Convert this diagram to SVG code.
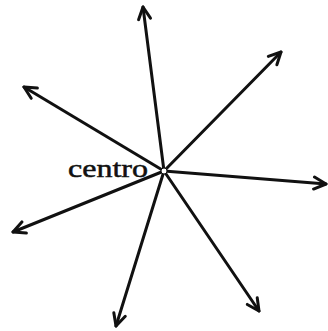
<svg xmlns="http://www.w3.org/2000/svg" width="328" height="331" viewBox="0 0 328 331">
<style>
.ray{stroke:#111;stroke-width:3;fill:none;stroke-linecap:round}
.lbl{font-family:"Liberation Serif","DejaVu Serif",serif;font-size:26px;fill:#111;stroke:#111;stroke-width:0.5}
</style>
<defs>
<marker id="arr" viewBox="0 0 16 16" refX="14" refY="8" markerWidth="16" markerHeight="16" markerUnits="userSpaceOnUse" orient="auto">
<path d="M2,2 L14,8 L2,14" fill="none" stroke="#111" stroke-width="3" stroke-linecap="round" stroke-linejoin="round"/>
</marker>
</defs>
<rect width="328" height="331" fill="#fff"/>
<g id="connectors">
<line class="ray" x1="164" y1="171" x2="143" y2="7" marker-end="url(#arr)"/>
<line class="ray" x1="164" y1="171" x2="281" y2="52" marker-end="url(#arr)"/>
<line class="ray" x1="164" y1="171" x2="24" y2="87" marker-end="url(#arr)"/>
<line class="ray" x1="164" y1="171" x2="326" y2="184" marker-end="url(#arr)"/>
<line class="ray" x1="164" y1="171" x2="13" y2="232" marker-end="url(#arr)"/>
<line class="ray" x1="164" y1="171" x2="116" y2="326" marker-end="url(#arr)"/>
<line class="ray" x1="164" y1="171" x2="259" y2="311" marker-end="url(#arr)"/>
</g>
<g id="centro">
<circle cx="164" cy="171" r="3" fill="#fff" stroke="#111" stroke-width="1"/>
<text class="lbl" x="68" y="177" textLength="80" lengthAdjust="spacingAndGlyphs">centro</text>
</g>
</svg>
